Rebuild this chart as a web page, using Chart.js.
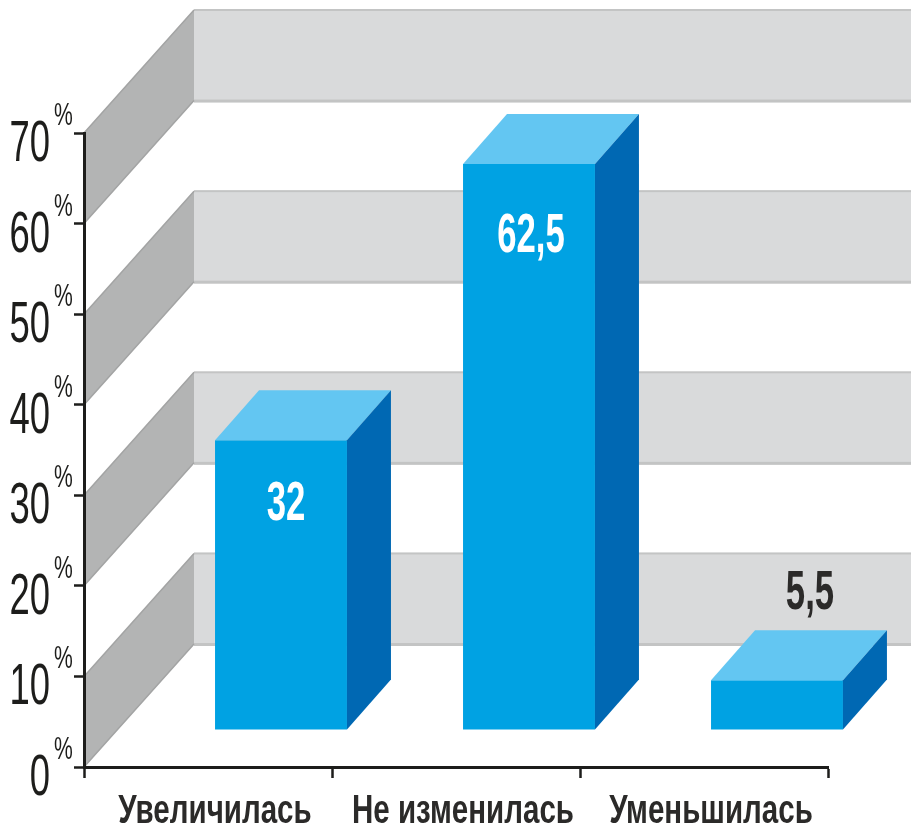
<!DOCTYPE html>
<html>
<head>
<meta charset="utf-8">
<style>
  html, body { margin: 0; padding: 0; background: #fff; }
  canvas { display: block; }
</style>
<script src="https://cdn.jsdelivr.net/npm/chart.js@4/dist/chart.umd.min.js"></script>
</head>
<body>
<canvas id="chart" width="911" height="828"></canvas>
<script>
// data
const categories = ['Увеличилась', 'Не изменилась', 'Уменьшилась'];
const values = [32, 62.5, 5.5];
const yTicks = [0, 10, 20, 30, 40, 50, 60, 70];
const wallBands = [[0, 10], [20, 30], [40, 50], [60, 70]];

// 3D look
const WALL_DX = 110, WALL_DY = -123;   // axis plane -> back wall
const BAR_DX = 73, BAR_DY = -37;       // axis plane -> bar front
const DEPTH_DX = 44, DEPTH_DY = -50;   // bar front -> bar back

// value label baseline, measured from the top of the bar front
const labelDy = [80, 88, -71];
const labelDx = [5, 2, 33];
const labelColor = ['#fff', '#fff', '#2b2a29'];

function poly(ctx, pts, color) {
    ctx.fillStyle = color;
    ctx.beginPath();
    pts.forEach((p, i) => i ? ctx.lineTo(p[0], p[1]) : ctx.moveTo(p[0], p[1]));
    ctx.closePath();
    ctx.fill();
}

// condensed text, the canvas has no narrow enough font
function narrowText(ctx, str, x, y, font, sx, color, align) {
    ctx.save();
    ctx.font = font;
    ctx.fillStyle = color;
    ctx.textAlign = align;
    ctx.textBaseline = 'alphabetic';
    ctx.translate(x, y);
    ctx.scale(sx, 1);
    ctx.fillText(str, 0, 0);
    ctx.restore();
}

const walls = {
    id: 'walls',
    beforeDraw(chart) {
        const ctx = chart.ctx, y = chart.scales.y, left = chart.chartArea.left;
        const backX = left + WALL_DX;
        ctx.save();
        ctx.fillStyle = '#fff';
        ctx.fillRect(0, 0, chart.width, chart.height);
        wallBands.forEach(b => {
            const y0 = y.getPixelForValue(b[0]), y1 = y.getPixelForValue(b[1]);
            // back wall
            ctx.fillStyle = '#d9dadb';
            ctx.fillRect(backX, y1 + WALL_DY, chart.width - backX, y0 - y1);
            ctx.fillStyle = '#c3c4c4';
            ctx.fillRect(backX, y1 + WALL_DY - 1, chart.width - backX, 2);
            ctx.fillRect(backX, y0 + WALL_DY - 1, chart.width - backX, 3);
            // left wall
            poly(ctx, [[left, y0], [left, y1], [backX, y1 + WALL_DY], [backX, y0 + WALL_DY]], '#b3b4b4');
            ctx.strokeStyle = '#a3a4a4';
            ctx.lineWidth = 1.5;
            ctx.beginPath();
            ctx.moveTo(left, y1); ctx.lineTo(backX, y1 + WALL_DY);
            ctx.moveTo(left, y0); ctx.lineTo(backX, y0 + WALL_DY);
            ctx.stroke();
        });
        ctx.restore();
    }
};

const bars3d = {
    id: 'bars3d',
    beforeDatasetDraw(chart) {
        chart.ctx.save();
        chart.ctx.translate(BAR_DX, BAR_DY);
    },
    afterDatasetDraw(chart, args) {
        const ctx = chart.ctx;
        args.meta.data.forEach(el => {
            const l = el.x - el.width / 2, r = el.x + el.width / 2;
            poly(ctx, [[l, el.y], [l + DEPTH_DX, el.y + DEPTH_DY], [r + DEPTH_DX, el.y + DEPTH_DY], [r, el.y]], '#63c6f2');
            poly(ctx, [[r, el.y], [r + DEPTH_DX, el.y + DEPTH_DY], [r + DEPTH_DX, el.base + DEPTH_DY], [r, el.base]], '#0068b3');
        });
        ctx.restore();
    },
    afterDatasetsDraw(chart) {
        const ctx = chart.ctx, xs = chart.scales.x, ys = chart.scales.y;
        // value labels
        chart.getDatasetMeta(0).data.forEach((el, i) => {
            const txt = String(values[i]).replace('.', ',');
            narrowText(ctx, txt, el.x + BAR_DX + labelDx[i], el.y + BAR_DY + labelDy[i],
                'bold 56px "Liberation Sans"', 0.62, labelColor[i], 'center');
        });
        // y labels with the small percent sign
        yTicks.forEach(t => {
            const py = ys.getPixelForValue(t);
            narrowText(ctx, String(t), 50, py + 28, '57px "Liberation Sans"', 0.64, '#1d1d1b', 'right');
            narrowText(ctx, '%', 54, py - 8, '32px "Liberation Sans"', 0.66, '#1d1d1b', 'left');
        });
        // x labels
        categories.forEach((c, i) => {
            narrowText(ctx, c, xs.getPixelForValue(i) + 7, 823, 'bold 41px "Liberation Sans"', 0.72, '#2b2a29', 'center');
        });
    }
};

new Chart(document.getElementById('chart'), {
    type: 'bar',
    data: {
        labels: categories,
        datasets: [{
            data: values,
            backgroundColor: '#00a2e3',
            borderWidth: 0,
            barPercentage: 1,
            categoryPercentage: 0.532,
            clip: false
        }]
    },
    options: {
        responsive: false,
        animation: false,
        layout: { padding: { top: 133, right: 83, left: 0, bottom: 0 } },
        plugins: { legend: { display: false }, tooltip: { enabled: false } },
        scales: {
            x: {
                afterFit: s => { s.height = 61; },
                grid: { offset: true, drawOnChartArea: false, tickLength: 11, tickWidth: 2.5, tickColor: '#1d1d1b' },
                border: { color: '#1d1d1b', width: 3 },
                ticks: { display: false }
            },
            y: {
                min: 0,
                max: 70,
                afterFit: s => { s.width = 84; },
                grid: { drawOnChartArea: false, tickLength: 10, tickWidth: 2.5, tickColor: '#1d1d1b' },
                border: { color: '#1d1d1b', width: 3 },
                ticks: { display: false, stepSize: 10 }
            }
        }
    },
    plugins: [walls, bars3d]
});
</script>
</body>
</html>
